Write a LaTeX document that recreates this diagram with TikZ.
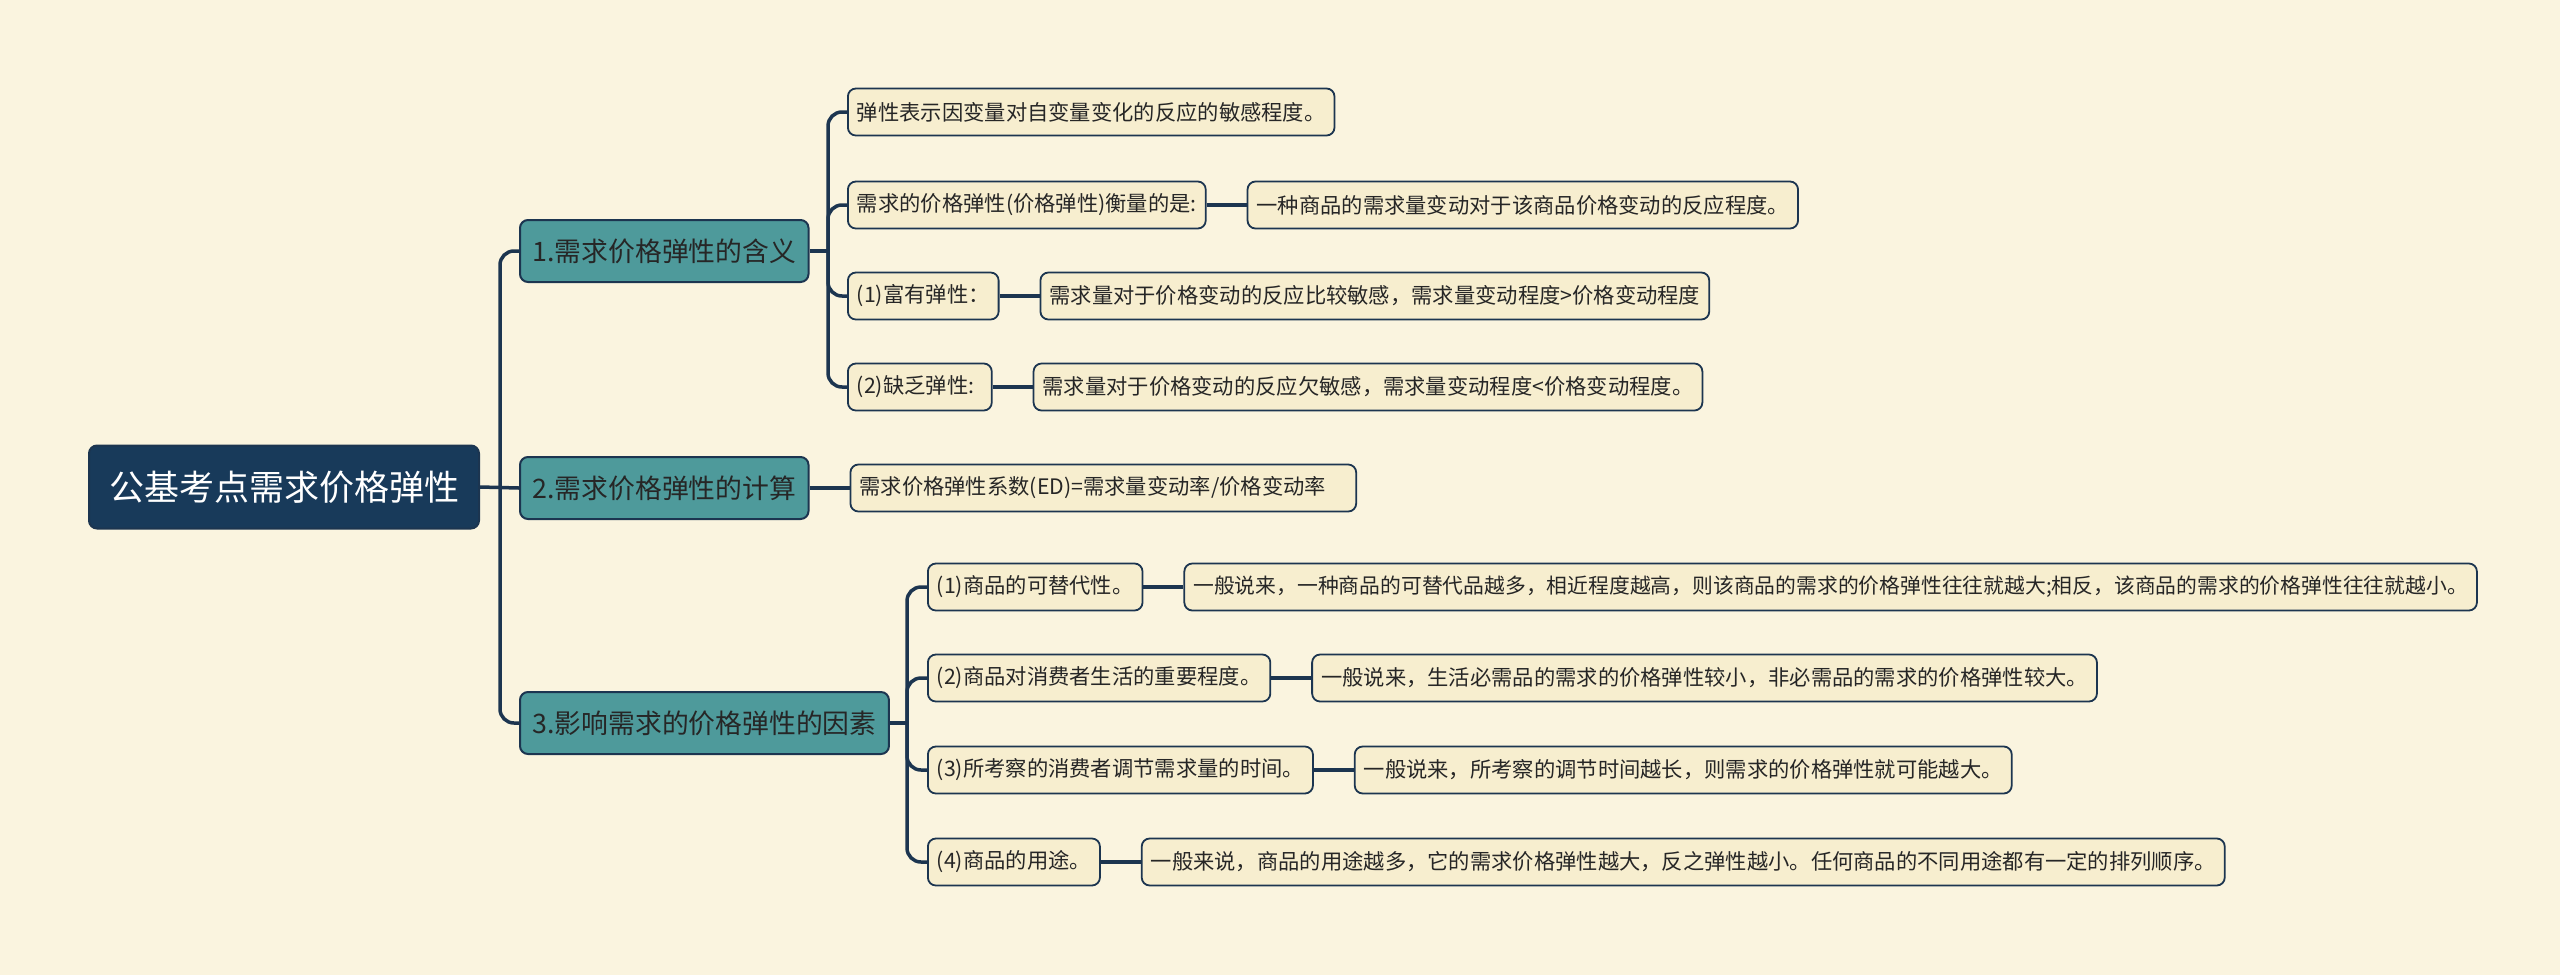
\documentclass[tikz,border=0pt]{standalone}
\usepackage{fontspec}
\newfontfamily\cjk{Noto Sans CJK SC}
\definecolor{mapBg}{HTML}{FAF4DF}
\definecolor{mapNavy}{HTML}{183A5A}
\definecolor{mapLine}{HTML}{1C3550}
\definecolor{mapTeal}{HTML}{4E9A9B}
\definecolor{mapLeaf}{HTML}{F7EECF}
\definecolor{mapText}{HTML}{262626}
\usetikzlibrary{positioning}

\begin{document}
\begin{tikzpicture}[
                x=1pt, y=-1pt,
                node distance=40pt,
                rootbox/.style={fill=mapNavy, draw=mapLine, line width=2pt, rounded corners=8pt,
                                text=white, font=\cjk\fontsize{35}{40}\selectfont,
                                minimum height=83pt, inner xsep=20pt, anchor=west},
                topicbox/.style={fill=mapTeal, draw=mapLine, line width=2pt, rounded corners=8pt,
                                 text=mapText, font=\cjk\fontsize{26.8}{30}\selectfont,
                                 minimum height=62pt, inner xsep=12.5pt, anchor=west},
                leafbox/.style={fill=mapLeaf, draw=mapLine, line width=1.8pt, rounded corners=8pt,
                                text=mapText, font=\cjk\fontsize{21.3}{25}\selectfont,
                                minimum height=47pt, inner xsep=9pt, anchor=west},
                link/.style={draw=mapLine, line width=3.5pt, rounded corners=14pt}
            ]
                % background and page size
                \fill[mapBg] (0,0) rectangle (2560,975);
                \useasboundingbox (0,0) rectangle (2560,975);

                \node[rootbox] (root) at (88,487) {公基考点需求价格弹性};

                \node[topicbox] (t1) at (519,251) {1.需求价格弹性的含义};
                \node[topicbox] (t2) at (519,488) {2.需求价格弹性的计算};
                \node[topicbox] (t3) at (519,723) {3.影响需求的价格弹性的因素};

                % branch 1
                \node[leafbox] (m1) at (847,112) {弹性表示因变量对自变量变化的反应的敏感程度。};
                \node[leafbox] (m2) at (847,205) {需求的价格弹性(价格弹性)衡量的是:};
                \node[leafbox] (m3) at (847,296) {(1)富有弹性：};
                \node[leafbox] (m4) at (847,387) {(2)缺乏弹性:\hspace*{0.4em}};
                \node[leafbox, right=of m2] (m2d) {一种商品的需求量变动对于该商品价格变动的反应程度。};
                \node[leafbox, right=of m3] (m3d) {需求量对于价格变动的反应比较敏感，需求量变动程度>价格变动程度};
                \node[leafbox, right=of m4] (m4d) {需求量对于价格变动的反应欠敏感，需求量变动程度<价格变动程度。};

                % branch 2
                \node[leafbox, right=of t2] (c1) {需求价格弹性系数(ED)=需求量变动率/价格变动率\hspace*{1em}};

                % branch 3
                \node[leafbox] (f1) at (927,587) {(1)商品的可替代性。};
                \node[leafbox] (f2) at (927,678) {(2)商品对消费者生活的重要程度。};
                \node[leafbox] (f3) at (927,770) {(3)所考察的消费者调节需求量的时间。};
                \node[leafbox] (f4) at (927,862) {(4)商品的用途。};
                \node[leafbox, right=of f1, font=\cjk\fontsize{20.8}{25}\selectfont] (f1d) {一般说来，一种商品的可替代品越多，相近程度越高，则该商品的需求的价格弹性往往就越大;相反，该商品的需求的价格弹性往往就越小。};
                \node[leafbox, right=of f2] (f2d) {一般说来，生活必需品的需求的价格弹性较小，非必需品的需求的价格弹性较大。};
                \node[leafbox, right=of f3] (f3d) {一般说来，所考察的调节时间越长，则需求的价格弹性就可能越大。};
                \node[leafbox, right=of f4] (f4d) {一般来说，商品的用途越多，它的需求价格弹性越大，反之弹性越小。任何商品的不同用途都有一定的排列顺序。};

                % trunk
                \coordinate (j0) at (500,487);
                \coordinate (j1) at (828,251);
                \coordinate (j3) at (907,723);
                \draw[link] (root.east) -- (t2.west);
                \draw[link] (j0) |- (t1.west);
                \draw[link] (j0) |- (t3.west);

                % connectors of branch 1
                \draw[link] (t1.east) -- (j1);
                \foreach \n in {m1,m2,m3,m4}
                    \draw[link] (j1) |- (\n.west);
                \draw[link] (m2) -- (m2d);
                \draw[link] (m3) -- (m3d);
                \draw[link] (m4) -- (m4d);

                \draw[link] (t2) -- (c1);

                % connectors of branch 3
                \draw[link] (t3.east) -- (j3);
                \foreach \n in {f1,f2,f3,f4}
                    \draw[link] (j3) |- (\n.west);
                \draw[link] (f1) -- (f1d);
                \draw[link] (f2) -- (f2d);
                \draw[link] (f3) -- (f3d);
                \draw[link] (f4) -- (f4d);

            \end{tikzpicture}
\end{document}
